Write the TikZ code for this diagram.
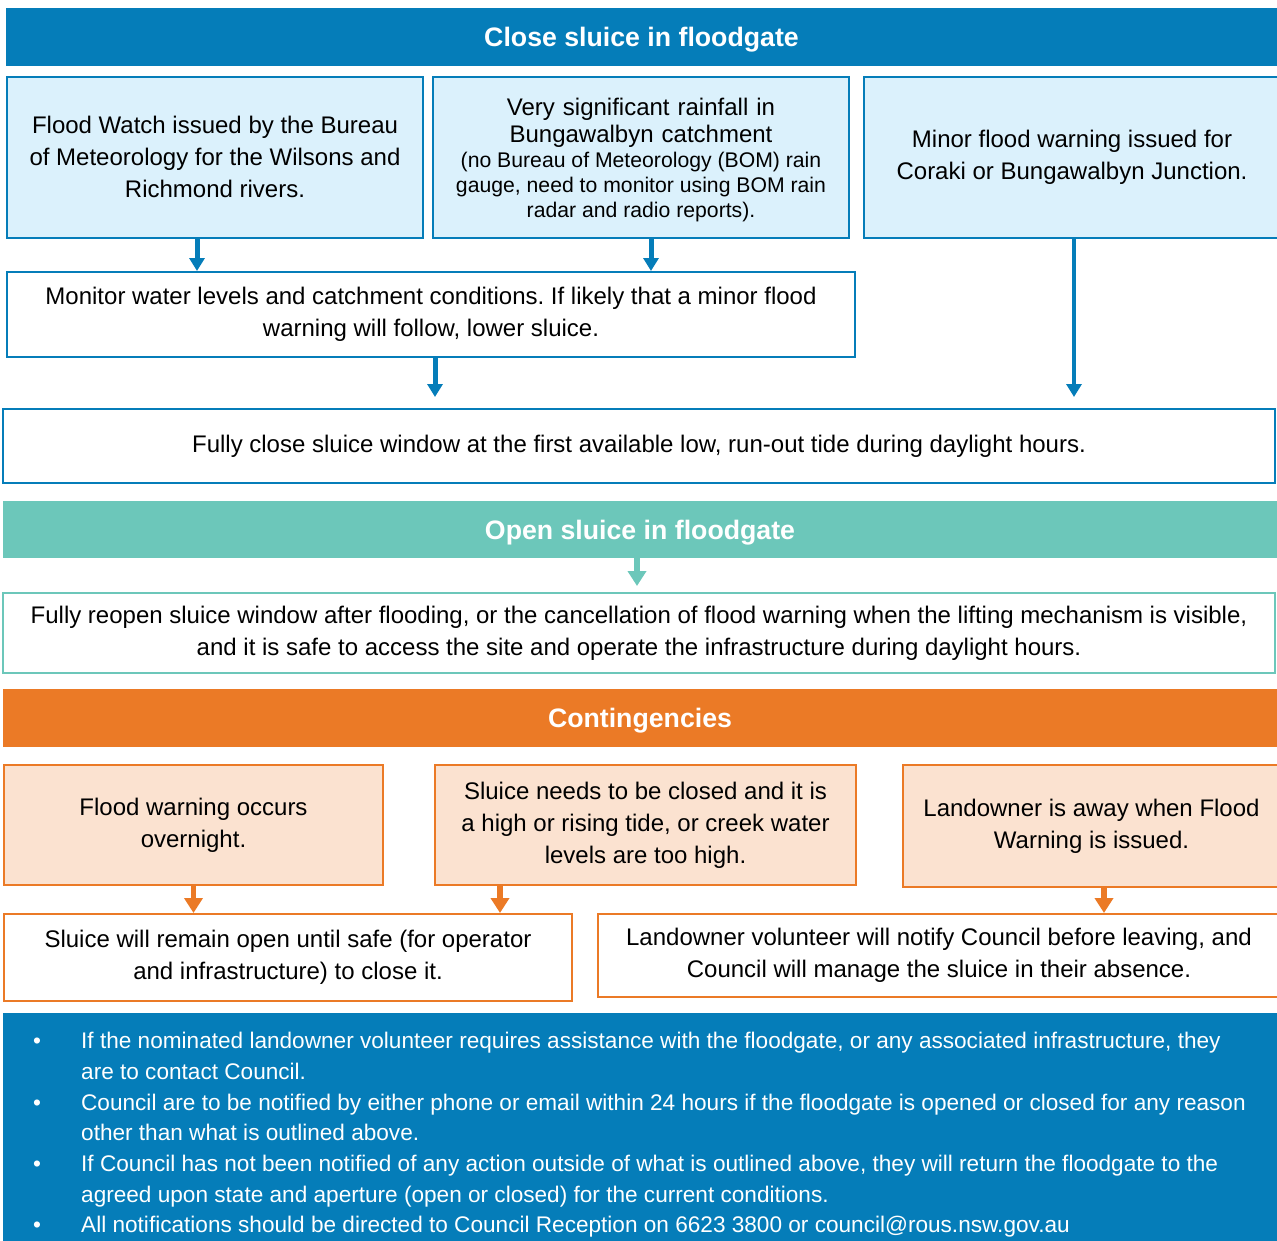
\documentclass[tikz,border=0pt]{standalone}
\usepackage{fontspec}
\setmainfont{Liberation Sans}
\usetikzlibrary{arrows.meta}
\frenchspacing
\definecolor{sluiceblue}{RGB}{5,125,185}
\definecolor{paleblue}{RGB}{219,241,252}
\definecolor{openteal}{RGB}{108,199,186}
\definecolor{contorange}{RGB}{235,122,38}
\definecolor{palepeach}{RGB}{251,226,208}
\tikzset{header/.style = {fill=#1, text=white, inner sep=0, text height=19, text depth=0, font=\fontsize{26.7}{30}\selectfont\bfseries}}
\tikzset{box/.style = {draw, line width=2, align=center, inner sep=0, font=\fontsize{24}{32}\selectfont}}
\tikzset{flow/.style = {line width=5, -{Triangle[length=13pt,width=15pt]}}}
\tikzset{bigflow/.style = {line width=6.5, -{Triangle[length=15pt,width=18pt]}}}

\begin{document}
\begin{tikzpicture}[x=1pt, y=-1pt]
            \useasboundingbox (0,0) rectangle (1277,1240);
            % close sluice
            \node [header=sluiceblue, minimum width=1271, minimum height=58] (close) at (641.5,37) {Close sluice in floodgate};
            \node [box, fill=paleblue, draw=sluiceblue, minimum width=416, minimum height=161] (watch) at (215,157) {Flood Watch issued by the Bureau\\of Meteorology for the Wilsons and\\Richmond rivers.};
            \node [box, fill=paleblue, draw=sluiceblue, minimum width=416, minimum height=161, text width=410] (rain) at (641,157.5) {%
                {\fontsize{24}{27}\selectfont\rule{0pt}{22pt}Very significant rainfall in\\Bungawalbyn catchment\par}
                {\fontsize{21.2}{25}\selectfont\centering\spaceskip=0pt\xspaceskip=0pt (no Bureau of Meteorology (BOM) rain\\gauge, need to monitor using BOM rain\\radar and radio reports).\par}};
            \node [box, fill=paleblue, draw=sluiceblue, minimum width=416, minimum height=161] (minor) at (1072,157.5) {Minor flood warning issued for\\Coraki or Bungawalbyn Junction.};
            \node [box, draw=sluiceblue, minimum width=848, minimum height=85] (monitor) at (431,314.5) {Monitor water levels and catchment conditions. If likely that a minor flood\\warning will follow, lower sluice.};
            \node [box, draw=sluiceblue, minimum width=1272, minimum height=74] (shut) at (639,446) {Fully close sluice window at the first available low, run-out tide during daylight hours.};
            \coordinate (watchout) at ([xshift=-18pt]watch.south);
            \coordinate (rainout) at ([xshift=10pt]rain.south);
            \coordinate (monitorout) at ([xshift=4pt]monitor.south);
            \coordinate (minorout) at ([xshift=2pt]minor.south);
            \draw [flow, sluiceblue] (watchout) -- (watchout |- monitor.north);
            \draw [flow, sluiceblue] (rainout) -- (rainout |- monitor.north);
            \draw [flow, sluiceblue, shorten >=11pt] (monitorout) -- (monitorout |- shut.north);
            \draw [flow, sluiceblue, line width=4, shorten >=11pt] (minorout) -- (minorout |- shut.north);
            % open sluice
            \node [header=openteal, minimum width=1274, minimum height=57] (open) at (640,529.5) {Open sluice in floodgate};
            \node [box, draw=openteal, minimum width=1272, minimum height=80] (reopen) at (639,633) {Fully reopen sluice window after flooding, or the cancellation of flood warning when the lifting mechanism is visible,\\and it is safe to access the site and operate the infrastructure during daylight hours.};
            \coordinate (openout) at ([xshift=-3pt]open.south);
            \draw [bigflow, openteal, shorten >=6pt] (openout) -- (openout |- reopen.north);
            % contingencies
            \node [header=contorange, minimum width=1274, minimum height=58] (cont) at (640,718) {Contingencies};
            \node [box, fill=palepeach, draw=contorange, minimum width=379, minimum height=120] (night) at (193.5,825) {Flood warning occurs\\overnight.};
            \node [box, fill=palepeach, draw=contorange, minimum width=421, minimum height=120] (tide) at (645.5,825) {Sluice needs to be closed and it is\\a high or rising tide, or creek water\\levels are too high.};
            \node [box, fill=palepeach, draw=contorange, minimum width=377, minimum height=122] (away) at (1091.5,826) {Landowner is away when Flood\\Warning is issued.};
            \node [box, draw=contorange, minimum width=568, minimum height=87] (wait) at (288,957.5) {Sluice will remain open until safe (for operator\\and infrastructure) to close it.};
            \node [box, draw=contorange, minimum width=682, minimum height=83] (notify) at (939,955.5) {Landowner volunteer will notify Council before leaving, and\\Council will manage the sluice in their absence.};
            \coordinate (nightout) at (night.south);
            \coordinate (tideout) at ([xshift=-145.5pt]tide.south);
            \coordinate (awayout) at ([xshift=12.5pt]away.south);
            \draw [bigflow, contorange, line width=5.5] (nightout) -- (nightout |- wait.north);
            \draw [bigflow, contorange, line width=5.5] (tideout) -- (tideout |- wait.north);
            \draw [bigflow, contorange, line width=5.5] (awayout) -- (awayout |- notify.north);
            % notes
            \node [fill=sluiceblue, text=white, anchor=north west, inner xsep=30, inner ysep=14, minimum width=1274, font=\fontsize{22.6}{30.7}\selectfont] (notes) at (3,1013) {%
                \begin{tabular}{@{}p{48pt}@{}p{1192pt}@{}}
                \textbullet & If the nominated landowner volunteer requires assistance with the floodgate, or any associated infrastructure, they\newline are to contact Council.\\
                \textbullet & Council are to be notified by either phone or email within 24 hours if the floodgate is opened or closed for any reason\newline other than what is outlined above.\\
                \textbullet & If Council has not been notified of any action outside of what is outlined above, they will return the floodgate to the\newline agreed upon state and aperture (open or closed) for the current conditions.\\
                \textbullet & All notifications should be directed to Council Reception on 6623 3800 or council@rous.nsw.gov.au
                \end{tabular}};
        \end{tikzpicture}
\end{document}
